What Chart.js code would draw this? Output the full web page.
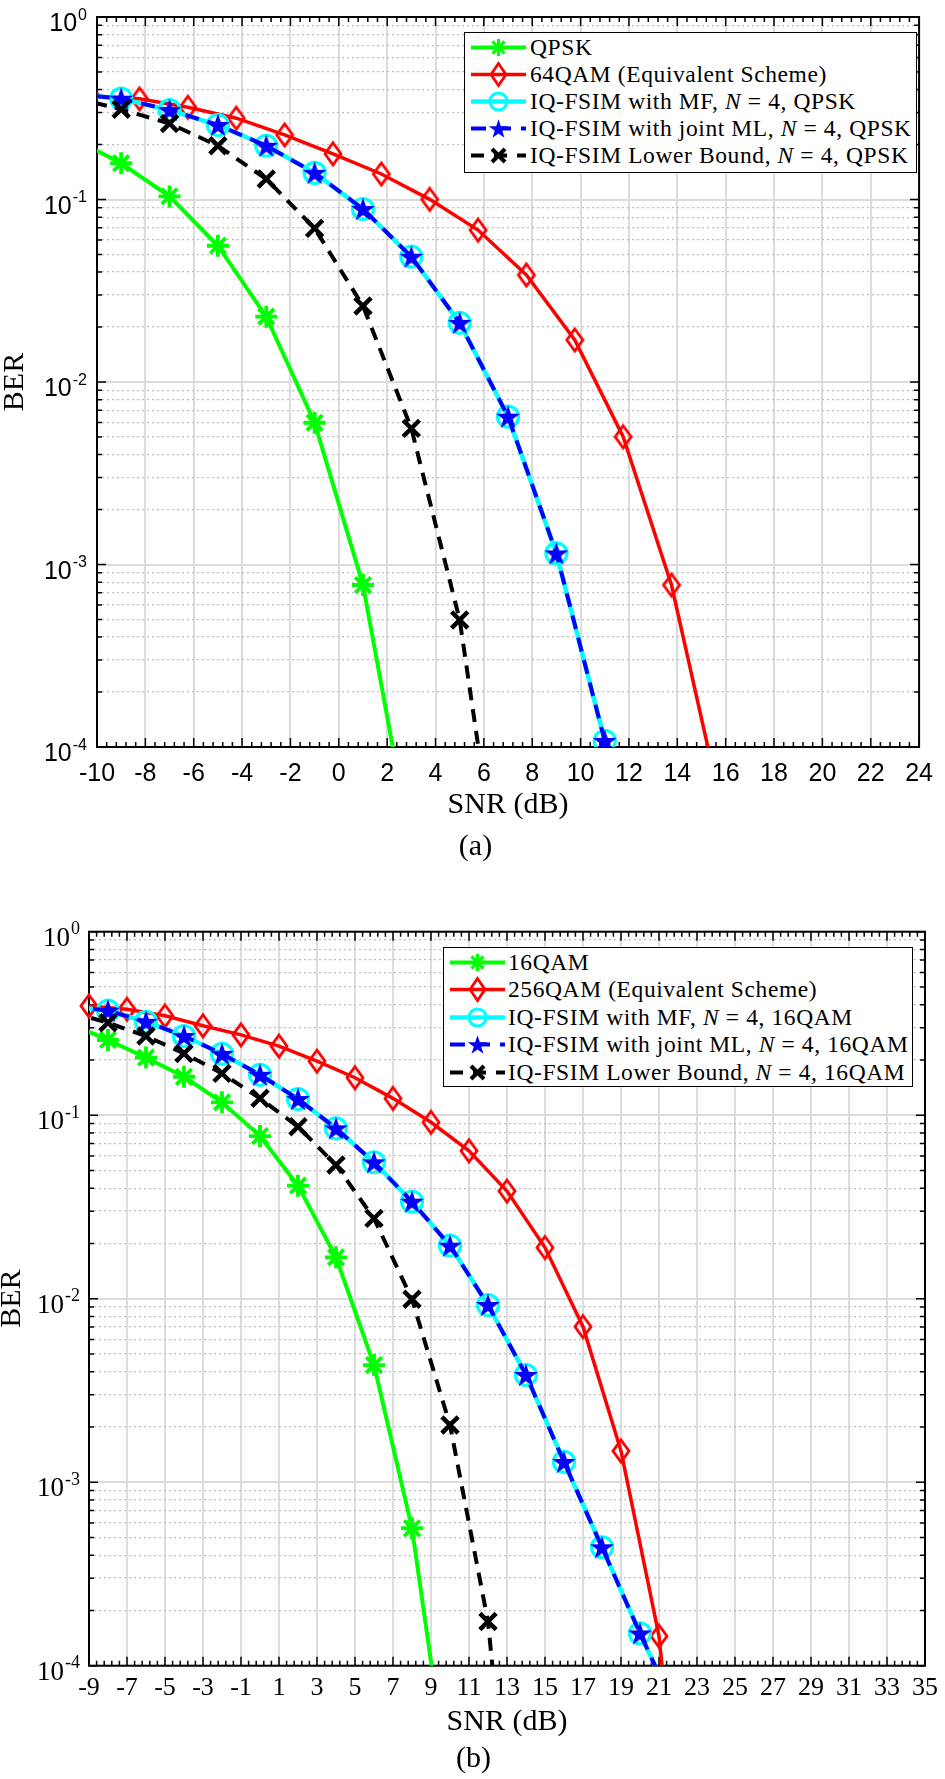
<!DOCTYPE html>
<html>
<head>
<meta charset="utf-8">
<script src="https://cdn.jsdelivr.net/npm/chart.js@4.4.1/dist/chart.umd.min.js"></script>
<style>
  body { margin: 0; background: #fff; width: 945px; height: 1779px; position: relative; overflow: hidden; }
  canvas { position: absolute; left: 0; }
  #chartA { top: 0; }
  #chartB { top: 875px; }
  .legend { position: absolute; border: 1.5px solid #000; background: #fff; box-sizing: border-box;
            font-family: 'Liberation Serif', serif; font-size: 23.5px; letter-spacing: 0.6px; color: #000; }
  .legend .row { position: absolute; left: 0; right: 0; height: 27px; }
  .legend svg { position: absolute; top: 0; }
  .legend span { position: absolute; top: 0; line-height: 27px; white-space: nowrap; }
  .caption { position: absolute; width: 945px; text-align: center; height: 34px; line-height: 34px;
             font-family: 'Liberation Serif', serif; font-size: 30px; }
</style>
</head>
<body>
<canvas id="chartA" width="945" height="870"></canvas>
<canvas id="chartB" width="945" height="904"></canvas>
<div class="legend" id="legendA" style="left:464px; top:32px; width:453px; height:141px;"></div>
<div class="legend" id="legendB" style="left:443px; top:947px; width:470px; height:140px;"></div>
<div class="caption" style="top:828px; left:3px;">(a)</div>
<div class="caption" style="top:1740px; left:1px;">(b)</div>

<script>
// ---- shared axis values ----
const yDecades = [1e-4, 1e-3, 1e-2, 1e-1, 1];
const yMinorDigits = [2, 3, 4, 5, 6, 7, 8, 9];

// ---- panel (a): QPSK, N = 4 ----
const xTicksA = [-10, -8, -6, -4, -2, 0, 2, 4, 6, 8, 10, 12, 14, 16, 18, 20, 22, 24];

const qpskSnr = [-11, -9, -7, -5, -3, -1, 1, 3];
const qpskBer = [0.217, 0.158, 0.104, 0.0558, 0.0228, 0.00598, 0.000772, 2.8e-5];

const qam64Snr = [-10.24, -8.24, -6.24, -4.24, -2.24, -0.24, 1.76, 3.76, 5.76, 7.76, 9.76, 11.76, 13.76, 15.76];
const qam64Ber = [0.37, 0.356, 0.32, 0.279, 0.226, 0.178, 0.138, 0.1002, 0.068, 0.0386, 0.017, 0.00501, 0.000772, 5.1e-5];

const mfSnrA = [-11, -9, -7, -5, -3, -1, 1, 3, 5, 7, 9, 11];
const mfBerA = [0.38, 0.357, 0.309, 0.256, 0.197, 0.14, 0.0887, 0.0486, 0.0211, 0.00646, 0.00115, 0.000108];
const mlBerA = [0.38, 0.357, 0.309, 0.256, 0.197, 0.14, 0.0887, 0.0486, 0.0211, 0.00646, 0.00115, 0.000108];

const lbSnrA = [-11, -9, -7, -5, -3, -1, 1, 3, 5, 7];
const lbBerA = [0.363, 0.312, 0.261, 0.197, 0.1295, 0.0695, 0.0261, 0.00557, 0.000497, 7.8e-6];

// ---- panel (b): 16QAM, N = 4 ----
const xTicksB = [-9, -7, -5, -3, -1, 1, 3, 5, 7, 9, 11, 13, 15, 17, 19, 21, 23, 25, 27, 29, 31, 33, 35];

const qam16Snr = [-10, -8, -6, -4, -2, 0, 2, 4, 6, 8, 10];
const qam16Ber = [0.316, 0.257, 0.206, 0.162, 0.1175, 0.077, 0.0413, 0.0168, 0.00435, 0.000561, 1.97e-5];

const qam256Snr = [-9, -7, -5, -3, -1, 1, 3, 5, 7, 9, 11, 13, 15, 17, 19, 21, 23];
const qam256Ber = [0.394, 0.378, 0.348, 0.307, 0.274, 0.238, 0.197, 0.16, 0.1235, 0.0915, 0.064, 0.0386, 0.019, 0.00704, 0.00148, 0.000145, 1.4e-6];

const mfSnrB = [-10, -8, -6, -4, -2, 0, 2, 4, 6, 8, 10, 12, 14, 16, 18, 20, 22];
const mfBerB = [0.393, 0.371, 0.323, 0.27, 0.216, 0.166, 0.1225, 0.0848, 0.0554, 0.0338, 0.01946, 0.00924, 0.00384, 0.00129, 0.000442, 0.00015, 5.4e-5];
const mlBerB = [0.393, 0.371, 0.323, 0.27, 0.216, 0.166, 0.1225, 0.0848, 0.0554, 0.0338, 0.01946, 0.00924, 0.00384, 0.00129, 0.000442, 0.00015, 5.4e-5];

const lbSnrB = [-10, -8, -6, -4, -2, 0, 2, 4, 6, 8, 10, 12, 14];
const lbBerB = [0.365, 0.319, 0.27, 0.217, 0.169, 0.1236, 0.0866, 0.0535, 0.0274, 0.00993, 0.00205, 0.000174, 1.4e-6];

const legendTextA = ['QPSK', '64QAM (Equivalent Scheme)', 'IQ-FSIM with MF, <i>N</i> = 4, QPSK',
  'IQ-FSIM with joint ML, <i>N</i> = 4, QPSK', 'IQ-FSIM Lower Bound, <i>N</i> = 4, QPSK'];
const legendTextB = ['16QAM', '256QAM (Equivalent Scheme)', 'IQ-FSIM with MF, <i>N</i> = 4, 16QAM',
  'IQ-FSIM with joint ML, <i>N</i> = 4, 16QAM', 'IQ-FSIM Lower Bound, <i>N</i> = 4, 16QAM'];

const GREEN = '#00ff00', RED = '#ff0000', CYAN = '#00ffff', BLUE = '#0000ff', BLACK = '#000000';

// marker images for shapes Chart.js does not have
function makeMarker(w, h, draw) {
  const c = document.createElement('canvas');
  c.width = w; c.height = h;
  draw(c.getContext('2d'), w, h);
  return c;
}
const starMarker = makeMarker(28, 28, (g, w, h) => {
  g.fillStyle = BLUE;
  g.beginPath();
  for (let i = 0; i < 10; i++) {
    const r = i % 2 ? 4.9 : 12.6;
    const a = -Math.PI / 2 + i * Math.PI / 5;
    g.lineTo(w / 2 + r * Math.cos(a), h / 2 + 1 + r * Math.sin(a));
  }
  g.closePath();
  g.fill();
});
const diamondMarker = makeMarker(22, 28, (g, w, h) => {
  g.strokeStyle = RED; g.lineWidth = 2.8;
  g.beginPath();
  g.moveTo(w / 2, 3); g.lineTo(w - 3, h / 2); g.lineTo(w / 2, h - 3); g.lineTo(3, h / 2);
  g.closePath();
  g.stroke();
});

const pts = (xs, ys) => xs.map((x, i) => ({ x, y: ys[i] }));

function datasets(sets) {
  const [g, r, c, b, k] = sets;
  return [
    { data: pts(g[0], g[1]), borderColor: GREEN, borderWidth: 4, pointStyle: 'star', pointRadius: 11,
      pointBorderWidth: 3.8, pointBorderColor: GREEN, pointBackgroundColor: GREEN, order: 5 },
    { data: pts(r[0], r[1]), borderColor: RED, borderWidth: 3.5, pointStyle: diamondMarker, pointRadius: 11, order: 4,
      clip: r[2] || undefined },
    { data: pts(c[0], c[1]), borderColor: CYAN, borderWidth: 4.5, pointStyle: 'circle', pointRadius: 10.5,
      pointBorderWidth: 3.2, pointBorderColor: CYAN, pointBackgroundColor: 'rgba(0,0,0,0)', order: 3 },
    { data: pts(b[0], b[1]), borderColor: BLUE, borderWidth: 4, borderDash: [14, 9], pointStyle: starMarker,
      pointRadius: 12, order: 2 },
    { data: pts(k[0], k[1]), borderColor: BLACK, borderWidth: 4, borderDash: [13, 9], pointStyle: 'crossRot',
      pointRadius: 11.5, pointBorderWidth: 4.5, pointBorderColor: BLACK, order: 1 },
  ].map(d => Object.assign({ tension: 0, fill: false, showLine: true }, d));
}

// box, inward ticks and 10^n labels (MATLAB style)
const matlabAxes = {
  id: 'matlabAxes',
  beforeDatasetsDraw(chart, args, o) {
    const { ctx, chartArea: a, scales: { x, y } } = chart;
    ctx.save();
    ctx.strokeStyle = '#000';
    ctx.lineWidth = 1.5;
    ctx.beginPath();
    const xt = x.ticks.map(t => t.value);
    const step = xt[1] - xt[0];
    for (let i = 0; xt[0] + i * step / 5 <= x.max + 1e-9; i++) {
      const px = x.getPixelForValue(xt[0] + i * step / 5);
      const len = i % 5 === 0 ? 9 : 5;
      ctx.moveTo(px, a.bottom); ctx.lineTo(px, a.bottom - len);
      ctx.moveTo(px, a.top); ctx.lineTo(px, a.top + len);
    }
    y.ticks.forEach(t => {
      const py = y.getPixelForValue(t.value);
      const len = t.major ? 9 : 5;
      ctx.moveTo(a.left, py); ctx.lineTo(a.left + len, py);
      ctx.moveTo(a.right, py); ctx.lineTo(a.right - len, py);
    });
    ctx.stroke();
    ctx.lineWidth = 2;
    ctx.strokeRect(a.left, a.top, a.width, a.height);

    ctx.fillStyle = '#000';
    ctx.textAlign = 'left';
    ctx.textBaseline = 'alphabetic';
    yDecades.forEach(v => {
      const py = y.getPixelForValue(v);
      const exp = String(Math.round(Math.log10(v)));
      ctx.font = o.supSize + 'px ' + o.family;
      const ws = ctx.measureText(exp).width;
      ctx.font = o.baseSize + 'px ' + o.family;
      const wb = ctx.measureText('10').width;
      ctx.fillText('10', o.right - ws - wb - 1, py + o.baseDrop);
      ctx.font = o.supSize + 'px ' + o.family;
      ctx.fillText(exp, o.right - ws, py + o.supDrop);
    });
    ctx.restore();
  }
};

function makeChart(id, p) {
  return new Chart(document.getElementById(id), {
    type: 'line',
    data: { datasets: datasets(p.sets) },
    plugins: [matlabAxes],
    options: {
      responsive: false,
      animation: false,
      devicePixelRatio: 1,
      layout: { padding: { left: 0, top: p.top, right: p.right, bottom: 0 } },
      plugins: {
        legend: { display: false },
        tooltip: { enabled: false },
        matlabAxes: p.yLabels,
      },
      scales: {
        x: {
          type: 'linear',
          min: p.xMin,
          max: p.xMax,
          afterBuildTicks: s => { s.ticks = p.xTicks.map(v => ({ value: v, major: true })); },
          afterFit: s => { s.height = p.xAxisHeight; },
          ticks: { autoSkip: false, maxRotation: 0, padding: p.xTickPad, color: '#000',
                   font: { family: p.xTickFamily, size: p.xTickSize } },
          grid: { drawTicks: false, color: '#dcdcdc', lineWidth: 2 },
          border: { display: false },
          title: { display: true, text: 'SNR (dB)', color: '#000',
                   font: { family: 'Liberation Serif', size: 30, lineHeight: 1.2 }, padding: { top: 0, bottom: p.xTitlePad } },
        },
        y: {
          type: 'logarithmic',
          min: 1e-4,
          max: 1,
          afterBuildTicks: s => {
            const ticks = [];
            yDecades.forEach((d, i) => {
              ticks.push({ value: d, major: true });
              if (i < yDecades.length - 1) yMinorDigits.forEach(m => ticks.push({ value: m * d, major: false }));
            });
            s.ticks = ticks;
          },
          afterFit: s => { s.width = p.yAxisWidth; },
          ticks: { display: false },
          grid: {
            drawTicks: false,
            color: c => (c.tick && c.tick.major) ? '#dcdcdc' : '#bdbdbd',
            lineWidth: c => (c.tick && c.tick.major) ? 2 : 1.3,
          },
          border: { display: false, dash: c => (c.tick && c.tick.major) ? [] : [2, 3] },
          title: { display: true, text: 'BER', color: '#000',
                   font: { family: 'Liberation Serif', size: 30, lineHeight: p.yTitleLH }, padding: 0 },
        },
      },
    },
  });
}

makeChart('chartA', {
  sets: [[qpskSnr, qpskBer], [qam64Snr, qam64Ber], [mfSnrA, mfBerA], [mfSnrA, mlBerA], [lbSnrA, lbBerA]],
  xMin: -10, xMax: 24, xTicks: xTicksA,
  top: 17, right: 14, yAxisWidth: 97, xAxisHeight: 123,
  xTickPad: 12, xTickFamily: 'Liberation Sans', xTickSize: 25, xTitlePad: 47, yTitleLH: 1.0,
  yLabels: { family: 'Liberation Sans', baseSize: 25, supSize: 16, right: 87, baseDrop: 14, supDrop: 2.5 },
});

makeChart('chartB', {
  sets: [[qam16Snr, qam16Ber], [qam256Snr, qam256Ber, { left: 12, top: 0, right: 0, bottom: 0 }],
         [mfSnrB, mfBerB], [mfSnrB, mlBerB], [lbSnrB, lbBerB]],
  xMin: -9, xMax: 35, xTicks: xTicksB,
  top: 56.7, right: 18.3, yAxisWidth: 89, xAxisHeight: 113.3,
  xTickPad: 7, xTickFamily: 'Liberation Serif', xTickSize: 26, xTitlePad: 39, yTitleLH: 0.8,
  yLabels: { family: 'Liberation Serif', baseSize: 27, supSize: 18, right: 80, baseDrop: 14, supDrop: 2.5 },
});

// legends drawn as HTML over the plot area
function sample(kind) {
  const y = 13.5, x1 = 2, x2 = 57, cx = 29.5;
  const line = (col, w, dash) => `<line x1="${x1}" y1="${y}" x2="${x2}" y2="${y}" stroke="${col}" stroke-width="${w}"${dash ? ` stroke-dasharray="${dash}"` : ''}/>`;
  if (kind === 0) {
    const r = 8.5, d = r * 0.707;
    return line(GREEN, 4) + `<g stroke="${GREEN}" stroke-width="3.2">
      <line x1="${cx - r}" y1="${y}" x2="${cx + r}" y2="${y}"/><line x1="${cx}" y1="${y - r}" x2="${cx}" y2="${y + r}"/>
      <line x1="${cx - d}" y1="${y - d}" x2="${cx + d}" y2="${y + d}"/><line x1="${cx - d}" y1="${y + d}" x2="${cx + d}" y2="${y - d}"/></g>`;
  }
  if (kind === 1) {
    return line(RED, 3.5) + `<polygon points="${cx},${y - 11} ${cx + 7.5},${y} ${cx},${y + 11} ${cx - 7.5},${y}" fill="none" stroke="${RED}" stroke-width="2.8"/>`;
  }
  if (kind === 2) {
    return line(CYAN, 4.5) + `<circle cx="${cx}" cy="${y}" r="8.5" fill="none" stroke="${CYAN}" stroke-width="3.2"/>`;
  }
  if (kind === 3) {
    let p = '';
    for (let i = 0; i < 10; i++) {
      const r = i % 2 ? 3.9 : 10.2, a = -Math.PI / 2 + i * Math.PI / 5;
      p += `${(cx + r * Math.cos(a)).toFixed(1)},${(y + 1 + r * Math.sin(a)).toFixed(1)} `;
    }
    return line(BLUE, 4, '15 10') + `<polygon points="${p}" fill="${BLUE}"/>`;
  }
  const d = 6.5;
  return line(BLACK, 4, '13 10') + `<g stroke="${BLACK}" stroke-width="4">
    <line x1="${cx - d}" y1="${y - d}" x2="${cx + d}" y2="${y + d}"/><line x1="${cx - d}" y1="${y + d}" x2="${cx + d}" y2="${y - d}"/></g>`;
}

function buildLegend(id, texts, firstRow, rowStep, svgLeft, textLeft) {
  const el = document.getElementById(id);
  el.innerHTML = texts.map((t, i) =>
    `<div class="row" style="top:${firstRow + i * rowStep}px">
       <svg width="60" height="27" style="left:${svgLeft}px">${sample(i)}</svg>
       <span style="left:${textLeft}px">${t}</span></div>`).join('');
}
buildLegend('legendA', legendTextA, 1, 27, 3.5, 65);
buildLegend('legendB', legendTextB, 0.5, 27.5, 3.5, 64);
</script>
</body>
</html>
